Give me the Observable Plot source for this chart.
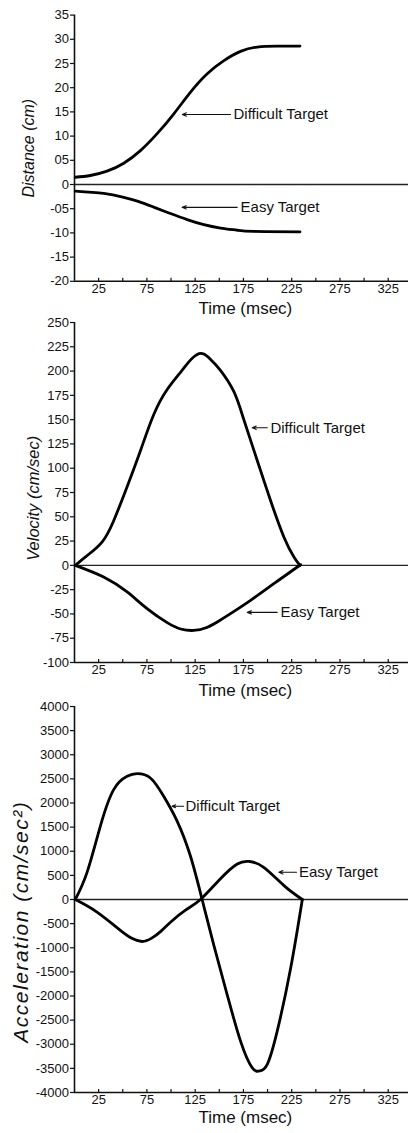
<!DOCTYPE html>
<html><head><meta charset="utf-8">
<script src="https://cdn.jsdelivr.net/npm/d3@7"></script>
<script src="https://cdn.jsdelivr.net/npm/@observablehq/plot@0.6"></script>
<style>
html,body{margin:0;padding:0;background:#fff;}
#wrap{position:relative;width:408px;height:1133px;overflow:hidden;background:#fff;}
#wrap svg{position:absolute;left:0;}
</style></head><body><div id="wrap"></div>
<script>
// ---- shared axis data ----
const timeTicks = [25,50,75,100,125,150,175,200,225,250,275,300,325];
const timeLabels = [25,75,125,175,225,275,325];
const seriesNames = ["Difficult Target","Easy Target"];

// ---- Panel 1: Distance ----
const distTicks = [35,30,25,20,15,10,5,0,-5,-10,-15,-20];
const distTickLabels = ["35","30","25","20","15","10","05","0","-05","-10","-15","-20"];
const distDifficultT = [0.8,16.4,33.7,51,68.3,85.6,102.9,120.2,137.5,154.8,172,189.3,210,233.6];
const distDifficultV = [1.5,1.86,2.75,4.4,7.0,10.5,14.6,19.1,22.9,25.6,27.5,28.4,28.6,28.6];
const distEasyT = [0.8,30.2,50,66,82,99.4,116.7,134,151.3,168.6,185.9,233.6];
const distEasyV = [-1.38,-1.85,-2.6,-3.5,-4.68,-6.0,-7.25,-8.3,-9.0,-9.45,-9.7,-9.78];

// ---- Panel 2: Velocity ----
const velTicks = [250,225,200,175,150,125,100,75,50,25,0,-25,-50,-75,-100];
const velTickLabels = ["250","225","200","175","150","125","100","75","50","25","0","-25","-50","-75","-100"];
const velDifficultT = [0.8,13,28.5,40.6,54.5,68.3,82,96,110,118,124,129,134,141,151,165,175.4,189.3,203,217,227.3,233.5];
const velDifficultV = [0,10,24,46,81,118,155,181,199,209,215,218,217.5,212,201,179,150,108,67,29,8.6,0];
const velEasyT = [0.8,30.2,54.5,75.2,96,110,123.5,137,150,161.6,182.4,206.5,230.8,233.5];
const velEasyV = [0,-12,-27.4,-44.6,-59,-65.5,-67,-64,-57,-49.7,-36,-18.9,-1.7,0];

// ---- Panel 3: Acceleration ----
const accTicks = [4000,3500,3000,2500,2000,1500,1000,500,0,-500,-1000,-1500,-2000,-2500,-3000,-3500,-4000];
const accTickLabels = ["4000","3500","3000","2500","2000","1500","1000","500","0","-500","-1000","-1500","-2000","-2500","-3000","-3500","-4000"];
const accDifficultT = [0.8,13,26.8,40.6,54.5,64.8,78.6,92.4,106.3,120,132.2,144.3,158.2,172,184,192,199.7,210,223.9,236];
const accDifficultV = [0,563,1523,2278,2552,2607,2519,2140,1626,906,0,-947,-1976,-2935,-3484,-3553,-3416,-2729,-1426,0];
const accEasyT = [0.8,23.3,47.5,60,70,80,90,100,115,130.5,151,168.6,180.6,196,217,236];
const accEasyV = [0,-260,-638,-810,-870,-800,-650,-460,-220,0,426,735,790,667,288,0];

// ---- annotations (label text, arrow tail/head in ms, level in units) ----
const distNotes = [
  {text:"Difficult Target", t1:161.6, t2:111.7, tx:164.7, v:14.46},
  {text:"Easy Target", t1:168.6, t2:111.5, tx:172, v:-4.72}
];
const velNotes = [
  {text:"Difficult Target", t1:199.7, t2:184.1, tx:203, v:141.7},
  {text:"Easy Target", t1:210, t2:179, tx:213.5, v:-48.4}
];
const accNotes = [
  {text:"Difficult Target", t1:113, t2:101, tx:115, v:1934},
  {text:"Easy Target", t1:230, t2:211.7, tx:232.5, v:564}
];

function rows(pairs){
  const out = [];
  pairs.forEach(([T,V],k)=>T.forEach((t,i)=>out.push({series:seriesNames[k], t, v:V[i]})));
  return out;
}

const FONT = "'Liberation Sans', Arial, Helvetica, sans-serif";

function panel(cfg){
  const labelMap = new Map(cfg.yTicks.map((d,i)=>[d,cfg.yLabels[i]]));
  const svg = Plot.plot({
    width: 408, height: cfg.height,
    marginLeft: 74, marginRight: 0, marginTop: cfg.mTop, marginBottom: cfg.mBottom,
    x: {domain: [0,346]},
    y: {domain: cfg.yDomain},
    style: {fontFamily: FONT, fontSize: "13px", color: "#111", background: "transparent", overflow: "visible"},
    marks: [
      Plot.ruleY([0], {stroke:"#222", strokeWidth:1.4}),
      Plot.axisY(cfg.yTicks, {tickSize:4, tickPadding:1.5, tickFormat: d=>labelMap.get(d), label:null, stroke:"#111", strokeWidth:1.2, fill:"#111"}),
      Plot.axisX(timeTicks, {anchor:"top", frameAnchor:"bottom", tickSize:4, text:null, label:null, stroke:"#111", strokeWidth:1.2}),
      Plot.axisX(timeLabels, {anchor:"bottom", tickSize:0, tickPadding:2, label:null, fill:"#111"}),
      Plot.ruleX([0], {stroke:"#111", strokeWidth:1.6}),
      Plot.ruleY([cfg.yDomain[0]], {stroke:"#111", strokeWidth:1.6}),
      Plot.line(cfg.data, {x:"t", y:"v", z:"series", curve:"natural", stroke:"#000", strokeWidth:2.8}),
      Plot.arrow(cfg.notes, {x1:"t1", y1:"v", x2:"t2", y2:"v", headLength:6, headAngle:45, stroke:"#111", strokeWidth:1.1}),
      Plot.text(cfg.notes, {x:"tx", y:"v", text:"text", textAnchor:"start", lineAnchor:"middle", fontSize:15, fill:"#111"}),
      Plot.text([cfg.yTitle], {frameAnchor:"left", y:[cfg.yTitleV], dx:cfg.yTitleDx, rotate:-90, textAnchor:"middle", lineAnchor:"middle", fontStyle:"italic", fontSize:cfg.yTitleSize, fill:"#111"}),
      Plot.text(["Time (msec)"], {x:[177], frameAnchor:"bottom", dy:cfg.xTitleDy, textAnchor:"middle", lineAnchor:"middle", fontSize:17, fill:"#111"})
    ]
  });
  svg.style.top = cfg.top + "px";
  svg.querySelectorAll("text").forEach(t => {
    if (t.textContent === cfg.yTitle && cfg.yTitleSpacing) t.setAttribute("letter-spacing", cfg.yTitleSpacing);
  });
  document.getElementById("wrap").appendChild(svg);
}

panel({top:0, height:320, mTop:14.6, mBottom:39.2, yDomain:[-20,35], yTicks:distTicks, yLabels:distTickLabels,
  data: rows([[distDifficultT,distDifficultV],[distEasyT,distEasyV]]), notes: distNotes,
  yTitle:"Distance (cm)", yTitleV:7.5, yTitleDx:-46, yTitleSize:16, xTitleDy:27});
panel({top:310, height:390, mTop:12, mBottom:38, yDomain:[-100,250], yTicks:velTicks, yLabels:velTickLabels,
  data: rows([[velDifficultT,velDifficultV],[velEasyT,velEasyV]]), notes: velNotes,
  yTitle:"Velocity (cm/sec)", yTitleV:69, yTitleDx:-41, yTitleSize:16.5, xTitleDy:28});
panel({top:700, height:433, mTop:6, mBottom:41, yDomain:[-4000,4000], yTicks:accTicks, yLabels:accTickLabels,
  data: rows([[accDifficultT,accDifficultV],[accEasyT,accEasyV]]), notes: accNotes,
  yTitle:"Acceleration (cm/sec²)", yTitleV:-460, yTitleDx:-53, yTitleSize:21, yTitleSpacing:"1.5", xTitleDy:25});
</script>
</body></html>
